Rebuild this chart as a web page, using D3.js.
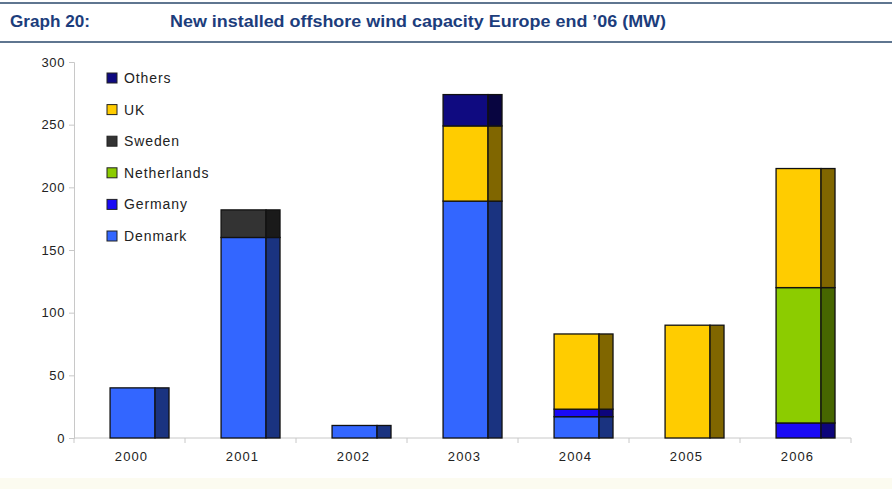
<!DOCTYPE html>
<html>
<head>
<meta charset="utf-8">
<script src="https://cdn.jsdelivr.net/npm/d3@7"></script>
<style>
  body { margin: 0; background: #fff; }
  svg { display: block; font-family: "Liberation Sans", Arial, sans-serif; }
</style>
</head>
<body>
<div id="chart"></div>
<script>
// data (MW)
const years = ["2000", "2001", "2002", "2003", "2004", "2005", "2006"];
const denmark = [40, 160, 10, 189, 17, 0, 0];
const germany = [0, 0, 0, 0, 6, 0, 12];
const netherlands = [0, 0, 0, 0, 0, 0, 108];
const sweden = [0, 22, 0, 0, 0, 0, 0];
const uk = [0, 0, 0, 60, 60, 90, 95];
const others = [0, 0, 0, 25, 0, 0, 0];
const countries = ["Denmark", "Germany", "Netherlands", "Sweden", "UK", "Others"];
const yTicks = [0, 50, 100, 150, 200, 250, 300];

const width = 892, height = 489;
const series = { Denmark: denmark, Germany: germany, Netherlands: netherlands, Sweden: sweden, UK: uk, Others: others };
const rows = years.map((y, i) => {
  const r = { year: y };
  countries.forEach(c => r[c] = series[c][i]);
  return r;
});

const color = d3.scaleOrdinal()
  .domain(countries)
  .range(["#3366ff", "#1a0af5", "#8ccc00", "#333333", "#ffcc00", "#0f0a80"]);
// depth face = half brightness
const side = c => d3.color(color(c)).darker(1.94);

const svg = d3.select("#chart").append("svg")
  .attr("width", width).attr("height", height);

// header
svg.append("line").attr("x1", 0).attr("x2", width).attr("y1", 3).attr("y2", 3)
  .attr("stroke", "#5f7690").attr("stroke-width", 2);
svg.append("line").attr("x1", 0).attr("x2", width).attr("y1", 42).attr("y2", 42)
  .attr("stroke", "#5f7690").attr("stroke-width", 2);
svg.append("text").attr("x", 10).attr("y", 27)
  .attr("font-size", 16.5).attr("font-weight", "bold").attr("fill", "#1c3d7c")
  .attr("textLength", 80).attr("lengthAdjust", "spacingAndGlyphs")
  .text("Graph 20:");
svg.append("text").attr("x", 170).attr("y", 27)
  .attr("font-size", 16.5).attr("font-weight", "bold").attr("fill", "#1c3d7c")
  .attr("textLength", 496).attr("lengthAdjust", "spacingAndGlyphs")
  .text("New installed offshore wind capacity Europe end \u201906 (MW)");

// bottom strip
svg.append("rect").attr("x", 0).attr("y", 478).attr("width", width).attr("height", 11)
  .attr("fill", "#fcfbf0");

const x = d3.scaleBand().domain(years).range([74, 851]);
const y = d3.scaleLinear().domain([0, 300]).range([438, 62]);

// y axis
const yAxis = svg.append("g").attr("transform", "translate(74,0)")
  .call(d3.axisLeft(y).tickValues(yTicks).tickSize(5).tickPadding(4));
yAxis.select(".domain").attr("stroke", "#c8c8c8");
yAxis.selectAll(".tick line").attr("stroke", "#c8c8c8");
yAxis.selectAll("text").attr("font-size", 13).attr("fill", "#222")
  .style("letter-spacing", "0.6px");

// x axis with ticks at band edges
const xAxisG = svg.append("g").attr("transform", "translate(0,438)");
xAxisG.append("line").attr("x1", 74).attr("x2", 851).attr("stroke", "#c8c8c8");
xAxisG.selectAll("line.tk").data(years.concat(["end"])).join("line")
  .attr("class", "tk")
  .attr("x1", d => d === "end" ? 851 : x(d)).attr("x2", d => d === "end" ? 851 : x(d))
  .attr("y1", 0).attr("y2", 5).attr("stroke", "#c8c8c8");
xAxisG.selectAll("text").data(years).join("text")
  .attr("x", d => x(d) + x.bandwidth() / 2 + 2)
  .attr("y", 23)
  .attr("text-anchor", "middle")
  .attr("font-size", 13).attr("fill", "#222")
  .style("letter-spacing", "1.1px")
  .text(d => d);

// stacked bars with a depth face
const stacked = d3.stack().keys(countries)(rows);
const bw = x.bandwidth();
const frontX = d => x(d.data.year) + bw * 0.325;
const frontW = bw * 0.405;
const sideW = bw * 0.126;

const layers = svg.append("g").selectAll("g").data(stacked).join("g");
layers.selectAll("rect.front").data(d => d.filter(s => s[1] > s[0]).map(s => Object.assign(s, { key: d.key })))
  .join("rect").attr("class", "front")
  .attr("x", frontX).attr("width", frontW)
  .attr("y", d => y(d[1])).attr("height", d => y(d[0]) - y(d[1]))
  .attr("fill", d => color(d.key))
  .attr("stroke", "#111").attr("stroke-width", 1.3);
layers.selectAll("rect.side").data(d => d.filter(s => s[1] > s[0]))
  .join("rect").attr("class", "side")
  .attr("x", d => frontX(d) + frontW).attr("width", sideW)
  .attr("y", d => y(d[1])).attr("height", d => y(d[0]) - y(d[1]))
  .attr("fill", d => side(d.key))
  .attr("stroke", "#111").attr("stroke-width", 1.3);

// legend (top entry is last stack layer)
const legendOrder = countries.slice().reverse();
const ly = d3.scalePoint().domain(legendOrder).range([78, 236]);
const legend = svg.append("g").selectAll("g").data(legendOrder).join("g")
  .attr("transform", d => `translate(107,${ly(d)})`);
legend.append("rect").attr("x", 0).attr("y", -5).attr("width", 10).attr("height", 10)
  .attr("fill", d => color(d)).attr("stroke", "#222").attr("stroke-width", 1);
legend.append("text").attr("x", 17).attr("y", 5)
  .attr("font-size", 14).attr("fill", "#222")
  .style("letter-spacing", "0.9px")
  .text(d => d);
</script>
</body>
</html>
